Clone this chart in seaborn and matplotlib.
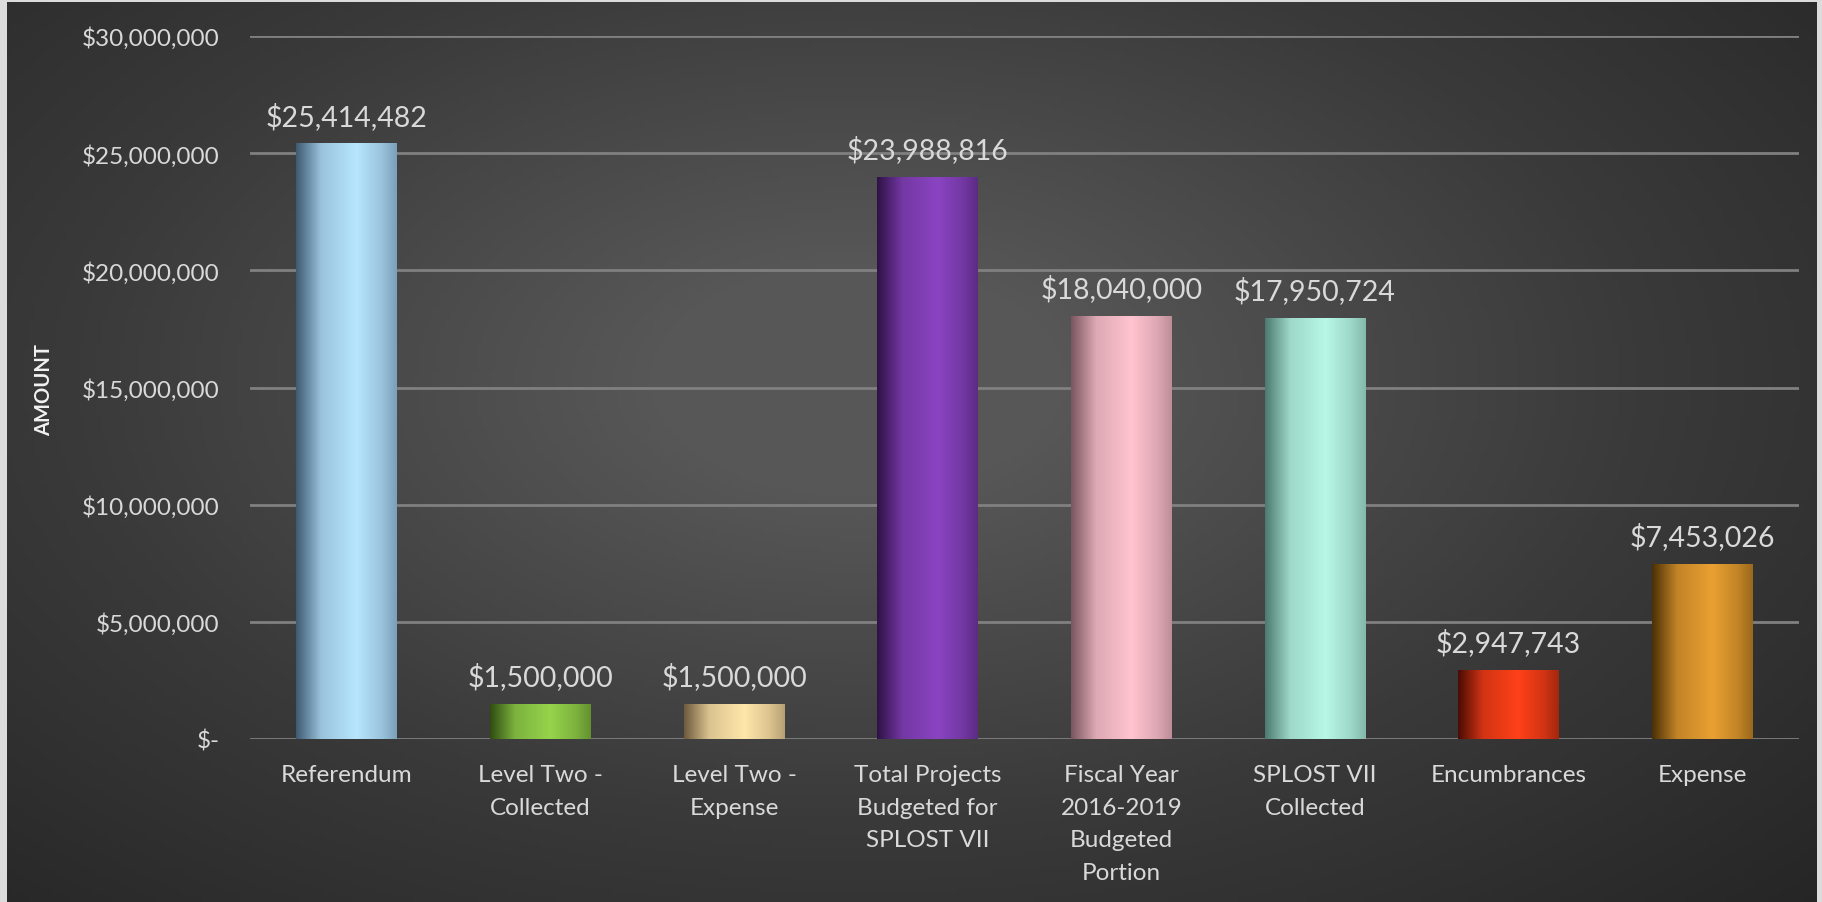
import matplotlib.pyplot as plt
import seaborn as sns
import numpy as np
import pandas as pd
from matplotlib.colors import LinearSegmentedColormap
from matplotlib.ticker import FuncFormatter

# Chart data
CATEGORIES = ['Referendum', 'Level Two -\nCollected', 'Level Two -\nExpense',
              'Total Projects\nBudgeted for\nSPLOST VII', 'Fiscal Year\n2016-2019\nBudgeted\nPortion',
              'SPLOST VII\nCollected', 'Encumbrances', 'Expense']
AMOUNTS = [25414482, 1500000, 1500000, 23988816, 18040000, 17950724, 2947743, 7453026]
Y_TICKS = [0, 5000000, 10000000, 15000000, 20000000, 25000000, 30000000]

# (dark edge, highlight) per bar
BAR_COLORS = [
    ('#3e5a72', '#b8e6ff'),
    ('#2f4d12', '#96d44c'),
    ('#6e5a3e', '#ffe6aa'),
    ('#2e1245', '#8a44c2'),
    ('#7a5660', '#ffc4d0'),
    ('#4d7a70', '#b8f7e6'),
    ('#4a0c04', '#ff4119'),
    ('#4a3006', '#eaa032'),
]

TEXT_COLOR = '#d9d9d9'
GRID_COLOR = '#808080'

sns.set_theme(style='white')
plt.rcParams['font.family'] = ['Lato', 'DejaVu Sans']

fig = plt.figure(figsize=(18.22, 9.03), dpi=100)
fig.patch.set_facecolor('#dcdcdc')

#Background panel with a radial gradient
W, H = 1822, 903
bg = fig.add_axes([7 / W, 0, (1817 - 7) / W, 1 - 3 / H])
bg.set_axis_off()
xx, yy = np.meshgrid(np.linspace(0, 1, 400), np.linspace(0, 1, 200))
r = np.sqrt(((xx - 0.47) / 0.75) ** 2 + ((yy - 0.42) / 0.85) ** 2)
shade = np.clip(1 - r, 0, 1)
bg_cmap = LinearSegmentedColormap.from_list('bg', ['#252525', '#3a3a3a', '#575757'])
bg.imshow(shade, cmap=bg_cmap, aspect='auto', extent=(0, 1, 1, 0), vmin=0, vmax=0.85)

ax = fig.add_axes([250 / W, 1 - 740 / H, (1799 - 250) / W, (740 - 37) / H])
ax.patch.set_alpha(0)

df = pd.DataFrame({'Category': CATEGORIES, 'Amount': AMOUNTS})
sns.barplot(data=df, x='Category', y='Amount', ax=ax, width=0.52,
            color='#888888', saturation=1, zorder=2)

#Paint each bar with a cylinder-like horizontal gradient
grad = np.linspace(0, 1, 256).reshape(1, -1)
for patch, (dark, light) in zip(ax.patches, BAR_COLORS):
    steps = sns.blend_palette([dark, light], 5)
    cmap = LinearSegmentedColormap.from_list(
        'bar', [(0.0, dark), (0.25, steps[3]), (0.6, light), (0.85, steps[3]), (1.0, steps[2])])
    x0, y0 = patch.get_x(), patch.get_y()
    w, h = patch.get_width(), patch.get_height()
    patch.set_facecolor(light)
    patch.set_edgecolor('none')
    im = ax.imshow(grad, cmap=cmap, aspect='auto', extent=(x0, x0 + w, y0, y0 + h), zorder=3)
    im.set_clip_path(patch)

#Value labels
for i, v in enumerate(AMOUNTS):
    ax.annotate('${:,.0f}'.format(v), (i, v), xytext=(0, 10), textcoords='offset points',
                ha='center', va='bottom', fontsize=20.5, color=TEXT_COLOR)

ax.set_xlim(-0.5, len(CATEGORIES) - 0.5)
ax.set_ylim(0, 30000000)
ax.set_yticks(Y_TICKS)
ax.yaxis.set_major_formatter(FuncFormatter(lambda v, p: '$-' if v == 0 else '${:,.0f}'.format(v)))
ax.yaxis.grid(True, color=GRID_COLOR, linewidth=2, zorder=1)
ax.set_axisbelow(True)
sns.despine(ax=ax, left=True, bottom=True)
ax.tick_params(axis='y', length=0, pad=22, labelsize=17.5, labelcolor=TEXT_COLOR)
ax.tick_params(axis='x', length=0, pad=18, labelsize=17.5, labelcolor=TEXT_COLOR)
for lbl in ax.get_xticklabels():
    lbl.set_linespacing(1.68)
    lbl.set_verticalalignment('top')
ax.set_xlabel('')
ax.set_ylabel('AMOUNT', fontsize=14.5, color='#f2f2f2', fontweight='bold')
ax.yaxis.set_label_coords(54 / W, 1 - 390 / H, transform=fig.transFigure)

plt.savefig('out.png', dpi=100, facecolor=fig.get_facecolor())
